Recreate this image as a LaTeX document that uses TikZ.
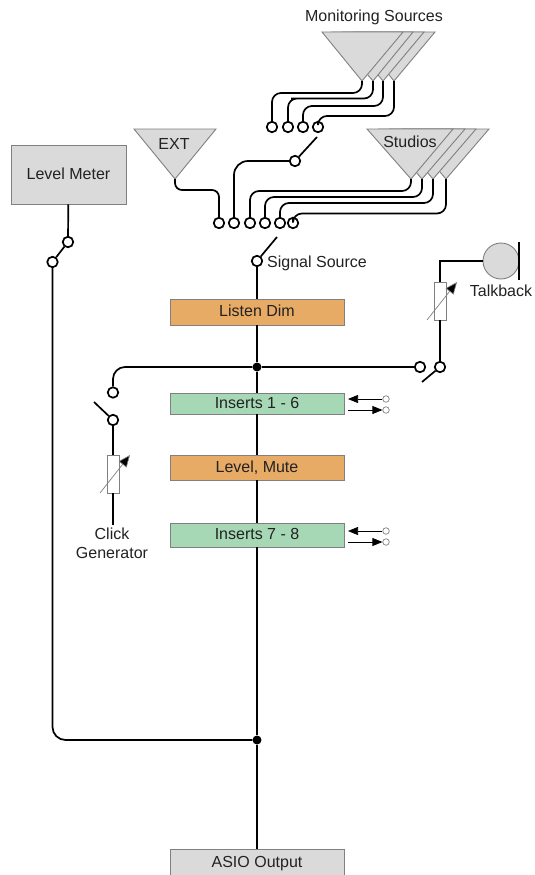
\documentclass[tikz,border=0pt]{standalone}
\usepackage{fontspec}
\setmainfont{Liberation Sans}
\usetikzlibrary{arrows.meta}
\definecolor{panelgray}{HTML}{DADADA}
\definecolor{edgegray}{HTML}{808080}
\definecolor{boxorange}{HTML}{E8AB66}
\definecolor{boxgreen}{HTML}{A6D8B6}
\definecolor{inkdark}{HTML}{222222}
\tikzset{
  wire/.style={line width=1.7pt,black},
  curved/.style={wire,rounded corners=9pt},
  term/.style={circle,draw=black,line width=1.7pt,fill=white,inner sep=0pt,minimum size=10.5pt},
  smallterm/.style={circle,draw=edgegray,line width=0.7pt,fill=white,inner sep=0pt,minimum size=6.5pt},
  dot/.style={circle,fill=black,inner sep=0pt,minimum size=9pt},
  blockbox/.style={rectangle,draw=edgegray,line width=0.9pt,minimum width=174pt,inner sep=0pt,text=inkdark,text height=11.6pt,text depth=2.6pt,font=\fontsize{16}{18}\selectfont},
  orangebox/.style={blockbox,fill=boxorange},
  greenbox/.style={blockbox,fill=boxgreen},
  graybox/.style={blockbox,fill=panelgray},
  tri/.style={fill=panelgray,draw=edgegray,line width=0.9pt,line join=miter},
  res/.style={rectangle,draw=edgegray,line width=0.9pt,fill=white,inner sep=0pt,minimum width=12pt,minimum height=38pt},
  adjust/.style={draw=edgegray,line width=0.7pt,-{Triangle[length=12pt,width=10pt,fill=black]}},
  flow/.style={draw=black,line width=0.7pt,-{Triangle[length=10pt,width=8pt,fill=black]}},
  label/.style={inner sep=0pt,text=inkdark,font=\fontsize{16}{18}\selectfont,align=center},
}
\begin{document}
\begin{tikzpicture}[x=1pt,y=-1pt]
\useasboundingbox (0,0) rectangle (535,875);
\fill[white] (0,0) rectangle (535,875);

% Monitoring sources fan
\draw[tri] (354,32) -- (435,32) -- (394,81) -- cycle;
\draw[tri] (343,32) -- (424,32) -- (383,81) -- cycle;
\draw[tri] (332,32) -- (413,32) -- (373,81) -- cycle;
\draw[tri] (322,32) -- (403,32) -- (362,81) -- cycle;
\coordinate (m1) at (362,81);
\coordinate (m2) at (373,81);
\coordinate (m3) at (383,81);
\coordinate (m4) at (394,81);
\node[label] (montitle) at (374,17) {Monitoring Sources};

% Studios fan
\draw[tri] (403,129) -- (489,129) -- (446,179) -- cycle;
\draw[tri] (390,129) -- (476,129) -- (433,179) -- cycle;
\draw[tri] (379,129) -- (465,129) -- (422,179) -- cycle;
\draw[tri] (367,129) -- (453,129) -- (411,179) -- cycle;
\coordinate (s1) at (411,179);
\coordinate (s2) at (422,179);
\coordinate (s3) at (433,179);
\coordinate (s4) at (446,179);
\node[label] (studtitle) at (410,142) {Studios};

% EXT
\draw[tri] (134,129) -- (216,129) -- (175,179) -- cycle;
\coordinate (e1) at (175,179);
\node[label] (exttitle) at (174,144) {EXT};

% Terminals
\node[term] (a1) at (272,127) {};
\node[term] (a2) at (288,127) {};
\node[term] (a3) at (303,127) {};
\node[term] (a4) at (318,127) {};
\node[term] (monsw) at (295,161) {};
\coordinate (monarm) at (317,137);
\node[term] (b1) at (219,223) {};
\node[term] (b2) at (234,223) {};
\node[term] (b3) at (250,223) {};
\node[term] (b4) at (265,223) {};
\node[term] (b5) at (280,223) {};
\node[term] (b6) at (293,223) {};
\node[term] (sig) at (257,261) {};
\coordinate (sigarm) at (277,237);
\node[label,anchor=west] (sigtext) at (267,263) {Signal Source};

% Source wires
\draw[curved] (m1) |- (300,93) -| (a1.north);
\draw[curved] (m2) |- (300,98.5) -| (a2.north);
\draw[curved] (m3) |- (320,106) -| (a3.north);
\draw[curved] (m4) |- (340,116) -| (a4.north);
\draw[wire] (monsw) -- (monarm);
\draw[wire,rounded corners=14pt] (monsw) -| (b2.north);
\draw[curved,rounded corners=7pt] (e1) |- (200,190) -| (b1.north);
\draw[curved] (s1) |- (300,191) -| (b3.north);
\draw[curved] (s2) |- (320,197) -| (b4.north);
\draw[curved] (s3) |- (340,203) -| (b5.north);
\draw[curved] (s4) |- (360,213.5) -| (b6.north);
\draw[wire] (sig) -- (sigarm);

% Blocks
\node[orangebox,minimum height=26pt] (listen) at (257,312) {Listen Dim};
\node[greenbox,minimum height=21pt] (ins1) at (257,403.5) {Inserts 1 - 6};
\node[orangebox,minimum height=25pt] (level) at (257,467.5) {Level, Mute};
\node[greenbox,minimum height=24pt] (ins2) at (257,535) {Inserts 7 - 8};
\node[graybox,minimum height=27pt] (asio) at (257,862.5) {ASIO Output};
\node[graybox,minimum width=115pt,minimum height=59pt] (meter) at (68.5,174.5) {Level Meter};
\node[dot] (j1) at (257,367) {};
\node[dot] (j2) at (257,740) {};

% Main bus
\draw[wire] (sig) -- (listen);
\draw[wire] (listen) -- (j1);
\draw[wire] (j1) -- (ins1);
\draw[wire] (ins1) -- (level);
\draw[wire] (level) -- (ins2);
\draw[wire] (ins2) -- (j2);
\draw[wire] (j2) -- (asio);

% Level meter path
\node[term] (lm1) at (68,242) {};
\node[term] (lm2) at (52.5,262) {};
\draw[wire] (meter) -- (lm1);
\draw[wire] (lm1) -- (lm2);
\draw[wire,rounded corners=13pt] (lm2) |- (j2);

% Talkback
\node[term] (tb1) at (420,367) {};
\node[term] (tb2) at (440,367) {};
\coordinate (tbarm) at (422,382);
\node[res] (tbres) at (440,301) {};
\node[circle,draw=edgegray,line width=0.9pt,fill=panelgray,inner sep=0pt,minimum size=36pt] (mic) at (501,261) {};
\coordinate (mictop) at (519,242);
\coordinate (micbot) at (519,280);
\draw[wire,line width=2.6pt] (mictop) -- (micbot);
\node[label] (tbtext) at (501,291) {Talkback};
\draw[wire] (j1) -- (tb1);
\draw[wire] (tb2) -- (tbarm);
\draw[wire] (tb2) -- (tbres);
\draw[wire] (tbres.north) |- (mic);
\coordinate (tbadjA) at (427,320);
\coordinate (tbadjB) at (457,282);
\draw[adjust] (tbadjA) -- (tbadjB);

% Click generator
\node[term] (ck1) at (113,392.5) {};
\node[term] (ck2) at (113,420) {};
\coordinate (ckarm) at (94,402);
\node[res] (ckres) at (113,474) {};
\coordinate (ckend) at (113,525);
\node[label] (cktext) at (112,543.5) {Click\\[1pt]Generator};
\draw[wire,rounded corners=12pt] (j1) -| (ck1.north);
\draw[wire] (ck2) -- (ckarm);
\draw[wire] (ck2) -- (ckres);
\draw[wire] (ckres) -- (ckend);
\coordinate (ckadjA) at (100,493);
\coordinate (ckadjB) at (130,455);
\draw[adjust] (ckadjA) -- (ckadjB);

% Insert send/return
\node[smallterm] (i1a) at (386,399) {};
\node[smallterm] (i1b) at (386,410) {};
\coordinate (i1c) at (348,399);
\coordinate (i1d) at (348,410);
\draw[flow] (i1a) -- (i1c);
\draw[flow] (i1d) -- (i1b);
\node[smallterm] (i2a) at (386,531) {};
\node[smallterm] (i2b) at (386,542) {};
\coordinate (i2c) at (348,531);
\coordinate (i2d) at (348,542);
\draw[flow] (i2a) -- (i2c);
\draw[flow] (i2d) -- (i2b);
\end{tikzpicture}
\end{document}
